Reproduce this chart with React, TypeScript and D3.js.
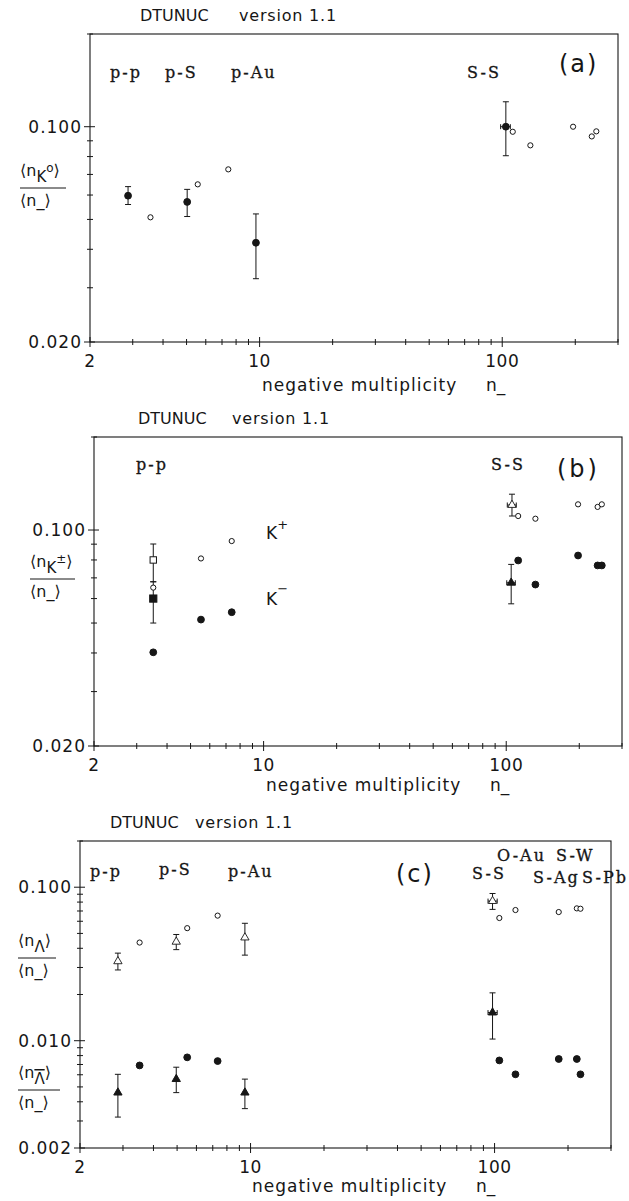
import React from "react";
import * as d3 from "d3";

const W = 629;
const H = 1201;
const SANS = "'DejaVu Sans', Verdana, sans-serif";
const SERIF = "'DejaVu Serif', serif";
const INK = "#161616";

// x axis: negative multiplicity, same for all three panels
const xDomain: [number, number] = [2, 300];
const xTickLabels = [2, 10, 100];

// ---- panel (a): <n_K0>/<n_>
const aYDomain: [number, number] = [0.02, 0.2];
const aYTickLabels = [0.02, 0.1];
const aK0Data = [
  { n: 2.87, v: 0.0597, lo: 0.0559, hi: 0.0639 },
  { n: 5.03, v: 0.057, lo: 0.0511, hi: 0.0626 },
  { n: 9.66, v: 0.042, lo: 0.0321, hi: 0.0521 },
  { n: 103.5, v: 0.1, lo: 0.0805, hi: 0.1205, nlo: 98.5, nhi: 108 },
];
const aK0Model = [
  { n: 3.55, v: 0.0508 },
  { n: 5.56, v: 0.065 },
  { n: 7.43, v: 0.0727 },
  { n: 110.5, v: 0.0963 },
  { n: 130.6, v: 0.087 },
  { n: 195.9, v: 0.1 },
  { n: 233.9, v: 0.093 },
  { n: 244.2, v: 0.0966 },
];
const aSystems = ["p-p", "p-S", "p-Au", "S-S"];

// ---- panel (b): <n_K+->/<n_>
const bYDomain: [number, number] = [0.02, 0.2];
const bYTickLabels = [0.02, 0.1];
const bKplusData = [{ n: 3.51, v: 0.08, lo: 0.068, hi: 0.0901 }];
const bKminusData = [{ n: 3.51, v: 0.06, lo: 0.05, hi: 0.068 }];
const bKplusSS = [{ n: 105.6, v: 0.1205, lo: 0.111, hi: 0.1306, nlo: 101, nhi: 110 }];
const bKminusSS = [{ n: 104.8, v: 0.0675, lo: 0.0577, hi: 0.0774, nlo: 100.5, nhi: 109 }];
const bKplusModel = [
  { n: 3.51, v: 0.0651 },
  { n: 5.52, v: 0.0809 },
  { n: 7.39, v: 0.0921 },
  { n: 112, v: 0.111 },
  { n: 131.9, v: 0.1088 },
  { n: 197.7, v: 0.1211 },
  { n: 238, v: 0.1188 },
  { n: 247.7, v: 0.1211 },
];
const bKminusModel = [
  { n: 3.51, v: 0.0402 },
  { n: 5.52, v: 0.0513 },
  { n: 7.39, v: 0.0542 },
  { n: 112, v: 0.0797 },
  { n: 131.9, v: 0.0666 },
  { n: 197.7, v: 0.0827 },
  { n: 238, v: 0.0768 },
  { n: 247.7, v: 0.0768 },
];
const bSystems = ["p-p", "S-S"];

// ---- panel (c): <n_Lambda>/<n_> and <n_antiLambda>/<n_>
const cYDomain: [number, number] = [0.002, 0.2];
const cYTickLabels = [0.002, 0.01, 0.1];
const cLamData = [
  { n: 2.86, v: 0.0329, lo: 0.0289, hi: 0.0372 },
  { n: 4.96, v: 0.0441, lo: 0.0392, hi: 0.0492 },
  { n: 9.48, v: 0.047, lo: 0.0361, hi: 0.0582 },
  { n: 98.1, v: 0.0812, lo: 0.0717, hi: 0.091, nlo: 94, nhi: 102.5 },
];
const cLamModel = [
  { n: 3.51, v: 0.0436 },
  { n: 5.5, v: 0.0541 },
  { n: 7.33, v: 0.0653 },
  { n: 104.6, v: 0.063 },
  { n: 121.8, v: 0.071 },
  { n: 183.2, v: 0.0689 },
  { n: 217.3, v: 0.0728 },
  { n: 224.9, v: 0.0724 },
];
const cAlamData = [
  { n: 2.86, v: 0.00459, lo: 0.00318, hi: 0.00604 },
  { n: 4.96, v: 0.00562, lo: 0.00459, hi: 0.00672 },
  { n: 9.48, v: 0.00459, lo: 0.00361, hi: 0.00562 },
  { n: 98.1, v: 0.01525, lo: 0.01025, hi: 0.0205, nlo: 94, nhi: 102.5 },
];
const cAlamModel = [
  { n: 3.51, v: 0.0069 },
  { n: 5.5, v: 0.00779 },
  { n: 7.33, v: 0.00737 },
  { n: 104.6, v: 0.00744 },
  { n: 121.8, v: 0.00604 },
  { n: 183.2, v: 0.0076 },
  { n: 217.3, v: 0.0076 },
  { n: 224.9, v: 0.00604 },
];
const cSystems = ["p-p", "p-S", "p-Au", "S-S", "O-Au", "S-W", "S-Ag", "S-Pb"];

// frame boxes (page pixels)
const frameA = { left: 90, right: 618, top: 34, bottom: 342 };
const frameB = { left: 94, right: 622, top: 437, bottom: 746 };
const frameC = { left: 80, right: 611, top: 841, bottom: 1148 };

const triPath = d3.symbol().type(d3.symbolTriangle).size(30)() as string;

function Marker({ kind, cx, cy }: any) {
  if (kind === "oc")
    return <circle cx={cx} cy={cy} r={2.6} fill="#fff" stroke={INK} strokeWidth={1} />;
  if (kind === "fc") return <circle cx={cx} cy={cy} r={3.4} fill={INK} />;
  if (kind === "os")
    return <rect x={cx - 3.2} y={cy - 3.2} width={6.4} height={6.4} fill="#fff" stroke={INK} strokeWidth={1} />;
  if (kind === "fs") return <rect x={cx - 3.6} y={cy - 3.6} width={7.2} height={7.2} fill={INK} />;
  if (kind === "ot")
    return <path d={triPath} transform={`translate(${cx},${cy})`} fill="#fff" stroke={INK} strokeWidth={0.9} />;
  return <path d={triPath} transform={`translate(${cx},${cy})`} fill={INK} />;
}

function Series({ data, kind, x, y }: any) {
  return (
    <g>
      {data.map((d: any, i: number) => {
        const cx = x(d.n);
        const cy = y(d.v);
        return (
          <g key={i} stroke={INK} strokeWidth={1}>
            {d.lo !== undefined && (
              <>
                <line x1={cx} x2={cx} y1={y(d.lo)} y2={y(d.hi)} />
                <line x1={cx - 3} x2={cx + 3} y1={y(d.lo)} y2={y(d.lo)} />
                <line x1={cx - 3} x2={cx + 3} y1={y(d.hi)} y2={y(d.hi)} />
              </>
            )}
            {d.nlo !== undefined && (
              <>
                <line x1={x(d.nlo)} x2={x(d.nhi)} y1={cy} y2={cy} />
                <line x1={x(d.nlo)} x2={x(d.nlo)} y1={cy - 2.5} y2={cy + 2.5} />
                <line x1={x(d.nhi)} x2={x(d.nhi)} y1={cy - 2.5} y2={cy + 2.5} />
              </>
            )}
            <Marker kind={kind} cx={cx} cy={cy} />
          </g>
        );
      })}
    </g>
  );
}

const near = (a: number, list: number[]) => list.some((b) => Math.abs(a / b - 1) < 1e-6);

function Panel({ f, yDomain, yLabels, title, xTitleDy, render }: any) {
  const x = d3.scaleLog().domain(xDomain).range([f.left, f.right]);
  const y = d3.scaleLog().domain(yDomain).range([f.bottom, f.top]);
  const fmt = d3.format(".3f");
  return (
    <g>
      <text x={f.left + title[0]} y={f.top - 13} fontFamily={SANS} fontSize={16} fill={INK}>DTUNUC</text>
      <text x={f.left + title[1]} y={f.top - 13} fontFamily={SANS} fontSize={16} fill={INK} letterSpacing={0.8}>version 1.1</text>
      <rect x={f.left} y={f.top} width={f.right - f.left} height={f.bottom - f.top} fill="none" stroke={INK} strokeWidth={1.1} />
      {y.ticks().map((t, i) => {
        const major = near(t, yLabels);
        return <line key={"y" + i} x1={f.left - (major ? 6 : 3)} x2={f.left + (major ? 5 : 3)} y1={y(t)} y2={y(t)} stroke={INK} strokeWidth={1} />;
      })}
      {x.ticks().map((t, i) => {
        const major = near(t, xTickLabels);
        return <line key={"x" + i} x1={x(t)} x2={x(t)} y1={f.bottom - (major ? 5 : 3)} y2={f.bottom + (major ? 5 : 3)} stroke={INK} strokeWidth={1} />;
      })}
      {yLabels.map((t: number) => (
        <text key={"yl" + t} x={f.left - 8} y={y(t) + 6} textAnchor="end" fontFamily={SANS} fontSize={17} letterSpacing={1} fill={INK}>{fmt(t)}</text>
      ))}
      {xTickLabels.map((t) => (
        <text key={"xl" + t} x={x(t)} y={f.bottom + 25} textAnchor="middle" fontFamily={SANS} fontSize={17} letterSpacing={0.5} fill={INK}>{t}</text>
      ))}
      <text x={f.left + 172} y={f.bottom + xTitleDy} fontFamily={SANS} fontSize={17} letterSpacing={1} fill={INK}>negative multiplicity</text>
      <text x={f.left + 396} y={f.bottom + xTitleDy} fontFamily={SANS} fontSize={17} fill={INK}>n_</text>
      {render(x, y)}
    </g>
  );
}

const sysStyle = { fontFamily: SERIF, fontSize: 16, letterSpacing: 2, fill: INK, stroke: INK, strokeWidth: 0.3 };
const tagStyle = { fontFamily: SANS, fontSize: 24, letterSpacing: 2, fill: INK };
const labStyle = { fontFamily: SANS, fontSize: 16, fill: INK };

function Fraction({ x0, y0, width, sub, sup, bar }: any) {
  return (
    <g>
      <text x={x0} y={y0} {...labStyle}>
        ⟨n
        <tspan dy={6} fontSize={15} textDecoration={bar ? "overline" : undefined}>{sub}</tspan>
        {sup ? <tspan dy={-10} fontSize={12}>{sup}</tspan> : null}
        <tspan dy={sup ? 4 : -6}>⟩</tspan>
      </text>
      <line x1={x0} x2={x0 + width} y1={y0 + 12} y2={y0 + 12} stroke={INK} strokeWidth={1} />
      <text x={x0} y={y0 + 30} {...labStyle}>⟨n_⟩</text>
    </g>
  );
}

export default function App() {
  return (
    <svg width={W} height={H} style={{ position: "absolute", left: 0, top: 0, background: "#fff" }}>
      <rect width={W} height={H} fill="#fff" />

      <Panel
        f={frameA}
        yDomain={aYDomain}
        yLabels={aYTickLabels}
        title={[50, 149]}
        xTitleDy={49}
        render={(x: any, y: any) => (
          <g>
            <Series data={aK0Data} kind="fc" x={x} y={y} />
            <Series data={aK0Model} kind="oc" x={x} y={y} />
            {[20, 75, 141, 377].map((dx, i) => (
              <text key={i} x={frameA.left + dx} y={frameA.top + 44} {...sysStyle}>{aSystems[i]}</text>
            ))}
            <text x={frameA.right - 59} y={frameA.top + 38} {...tagStyle}>(a)</text>
          </g>
        )}
      />
      <Fraction x0={20} y0={176} width={46} sub="K" sup="o" />

      <Panel
        f={frameB}
        yDomain={bYDomain}
        yLabels={bYTickLabels}
        title={[44, 138]}
        xTitleDy={45}
        render={(x: any, y: any) => (
          <g>
            <Series data={bKplusData} kind="os" x={x} y={y} />
            <Series data={bKminusData} kind="fs" x={x} y={y} />
            <Series data={bKplusModel} kind="oc" x={x} y={y} />
            <Series data={bKminusModel} kind="fc" x={x} y={y} />
            <Series data={bKplusSS} kind="ot" x={x} y={y} />
            <Series data={bKminusSS} kind="ft" x={x} y={y} />
            {[42, 397].map((dx, i) => (
              <text key={i} x={frameB.left + dx} y={frameB.top + 33} {...sysStyle}>{bSystems[i]}</text>
            ))}
            <text x={frameB.right - 65} y={frameB.top + 40} {...tagStyle} letterSpacing={3}>(b)</text>
            <text x={266} y={539} {...labStyle} fontSize={17}>K<tspan dy={-10} fontSize={13}>+</tspan></text>
            <text x={266} y={605} {...labStyle} fontSize={17}>K<tspan dy={-12} fontSize={13}>−</tspan></text>
          </g>
        )}
      />
      <Fraction x0={30} y0={567} width={45} sub="K" sup="±" />

      <Panel
        f={frameC}
        yDomain={cYDomain}
        yLabels={cYTickLabels}
        title={[30, 115]}
        xTitleDy={44}
        render={(x: any, y: any) => (
          <g>
            <Series data={cLamData} kind="ot" x={x} y={y} />
            <Series data={cLamModel} kind="oc" x={x} y={y} />
            <Series data={cAlamData} kind="ft" x={x} y={y} />
            <Series data={cAlamModel} kind="fc" x={x} y={y} />
            {[
              [10, 36],
              [79, 34],
              [148, 36],
              [392, 38],
              [417, 20],
              [476, 20],
              [453, 42],
              [502, 42],
            ].map(([dx, dy], i) => (
              <text key={i} x={frameC.left + dx} y={frameC.top + dy} {...sysStyle}>{cSystems[i]}</text>
            ))}
            <text x={frameC.left + 316} y={frameC.top + 41} {...tagStyle}>(c)</text>
          </g>
        )}
      />
      <Fraction x0={18} y0={946} width={38} sub="Λ" />
      <Fraction x0={18} y0={1078} width={42} sub="Λ" bar />
    </svg>
  );
}
